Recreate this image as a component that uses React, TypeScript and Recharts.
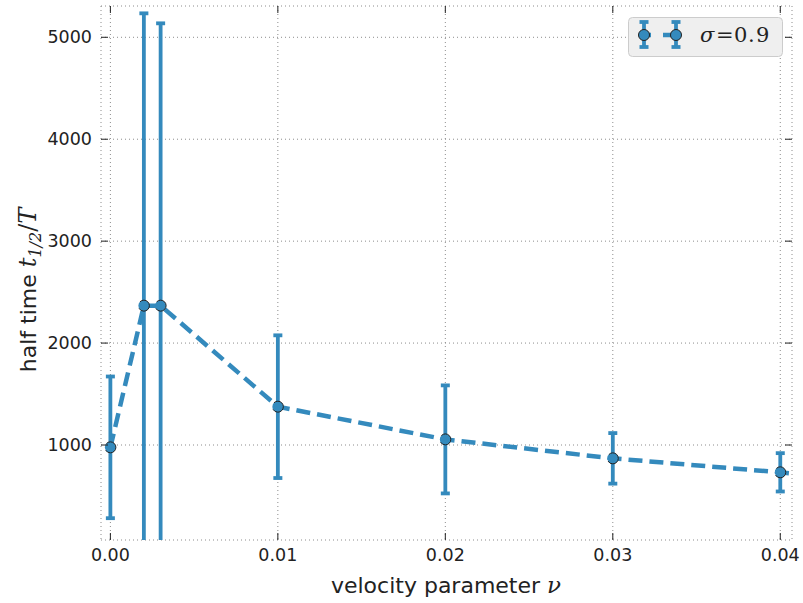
import {
  LineChart,
  Line,
  XAxis,
  YAxis,
  CartesianGrid,
  ErrorBar,
  ReferenceArea,
  Legend,
  Label,
} from 'recharts'

// velocity parameter ν and the fitted half time t_{1/2}/T with its spread
const nu = [0, 0.002, 0.003, 0.01, 0.02, 0.03, 0.04, 0.05]
const halfTime = [977, 2367, 2367, 1376, 1055, 869, 732, 565]
const halfTimeErr = [695, 2868, 2770, 700, 530, 248, 188, 0]

const xTicks = [0, 0.01, 0.02, 0.03, 0.04]
const yTicks = [1000, 2000, 3000, 4000, 5000]
const xDomain = [-0.00056, 0.0407]
const yDomain = [68, 5307]

const BLUE = '#348ABD'
const INK = '#222222'
const PLOT_TOP = 6
const PLOT_BOTTOM = 540
const PLOT_LEFT = 101
const PLOT_RIGHT = 792
const TICK_LEN = 7

const data = nu.map((v, i) => ({ nu: v, t: halfTime[i], err: halfTimeErr[i] }))

// matplotlib-style inward ticks on both sides of the frame
function XTick({ x, payload }: any) {
  return (
    <g>
      <line x1={x} x2={x} y1={PLOT_BOTTOM} y2={PLOT_BOTTOM - TICK_LEN} stroke={INK} />
      <line x1={x} x2={x} y1={PLOT_TOP} y2={PLOT_TOP + TICK_LEN} stroke={INK} />
      <text x={x} y={561} textAnchor="middle" fontSize={17.5} fontFamily="DejaVu Sans" fill={INK}>
        {payload.value.toFixed(2)}
      </text>
    </g>
  )
}

function YTick({ y, payload }: any) {
  return (
    <g>
      <line x1={PLOT_LEFT} x2={PLOT_LEFT + TICK_LEN} y1={y} y2={y} stroke={INK} />
      <line x1={PLOT_RIGHT} x2={PLOT_RIGHT - TICK_LEN} y1={y} y2={y} stroke={INK} />
      <text x={92} y={y + 6} textAnchor="end" fontSize={17.5} fontFamily="DejaVu Sans" fill={INK}>
        {payload.value}
      </text>
    </g>
  )
}

function XTitle() {
  return (
    <text x={446} y={593} textAnchor="middle" fontSize={22} fontFamily="DejaVu Sans" fill={INK}>
      velocity parameter{' '}
      <tspan fontFamily="DejaVu Serif" fontStyle="italic" fontSize={23}>ν</tspan>
    </text>
  )
}

function YTitle() {
  return (
    <text
      transform="translate(36, 290) rotate(-90)"
      textAnchor="middle"
      fontSize={22}
      fontFamily="DejaVu Sans"
      fill={INK}
    >
      half time{' '}
      <tspan fontFamily="DejaVu Serif" fontStyle="italic" fontSize={24}>t</tspan>
      <tspan fontFamily="DejaVu Serif" fontStyle="italic" fontSize={16} dy={5}>1/2</tspan>
      <tspan fontFamily="DejaVu Serif" fontSize={24} dy={-5}>/</tspan>
      <tspan fontFamily="DejaVu Serif" fontStyle="italic" fontSize={24}>T</tspan>
    </text>
  )
}

function SigmaLegend() {
  const marker = (cx: number) => (
    <g>
      <line x1={cx} x2={cx} y1={5} y2={30} stroke={BLUE} strokeWidth={3.8} />
      <line x1={cx - 4.5} x2={cx + 4.5} y1={5} y2={5} stroke={BLUE} strokeWidth={3.8} />
      <line x1={cx - 4.5} x2={cx + 4.5} y1={30} y2={30} stroke={BLUE} strokeWidth={3.8} />
      <circle cx={cx} cy={18} r={5.5} fill={BLUE} stroke={INK} strokeWidth={1} />
    </g>
  )
  return (
    <svg width={156} height={41} style={{ display: 'block' }}>
      <rect x={0.5} y={0.5} width={154} height={39} rx={4} fill="#efefef" stroke="#cccccc" />
      <line x1={16} x2={48} y1={18} y2={18} stroke={BLUE} strokeWidth={4.5} strokeDasharray="7 12 14" />
      {marker(16)}
      {marker(48)}
      <text y={25} fontSize={21} fontFamily="DejaVu Serif" fill={INK}>
        <tspan x={72} fontStyle="italic">σ</tspan>
        <tspan x={88}>=</tspan>
        <tspan x={106}>0</tspan>
        <tspan x={120}>.</tspan>
        <tspan x={128}>9</tspan>
      </text>
    </svg>
  )
}

export default function App() {
  return (
    <div style={{ position: 'absolute', left: 0, top: 0, background: '#fff' }}>
      {/* plot-area clip shared by the error bars, which run past the lower axis */}
      <svg width={0} height={0} style={{ position: 'absolute' }}>
        <defs>
          <clipPath id="plot-clip" clipPathUnits="userSpaceOnUse">
            <rect x={PLOT_LEFT} y={PLOT_TOP} width={PLOT_RIGHT - PLOT_LEFT} height={PLOT_BOTTOM - PLOT_TOP} />
          </clipPath>
        </defs>
      </svg>
      <style>{'.recharts-errorBars, .recharts-errorBar { clip-path: url(#plot-clip); }'}</style>
      <LineChart
        width={803}
        height={603}
        data={data}
        margin={{ top: PLOT_TOP, right: 803 - PLOT_RIGHT, left: 0, bottom: 0 }}
      >
        <ReferenceArea fill="#eeeeee" fillOpacity={1} stroke="none" ifOverflow="visible" />
        <XAxis
          type="number"
          dataKey="nu"
          domain={xDomain}
          allowDataOverflow
          ticks={xTicks}
          tick={<XTick />}
          tickLine={false}
          axisLine={false}
          height={603 - PLOT_BOTTOM}
          interval={0}
        >
          <Label content={<XTitle />} />
        </XAxis>
        <YAxis
          type="number"
          domain={yDomain}
          allowDataOverflow
          ticks={yTicks}
          tick={<YTick />}
          tickLine={false}
          axisLine={false}
          width={PLOT_LEFT}
          interval={0}
        >
          <Label content={<YTitle />} />
        </YAxis>
        <Line
          dataKey="t"
          stroke={BLUE}
          strokeWidth={4.5}
          strokeDasharray="14 7"
          dot={{ r: 5.5, fill: BLUE, stroke: INK, strokeWidth: 1 }}
          activeDot={false}
          isAnimationActive={false}
        >
          <ErrorBar
            dataKey="err"
            direction="y"
            width={4.5}
            stroke={BLUE}
            strokeWidth={3.8}
            isAnimationActive={false}
          />
        </Line>
        <CartesianGrid stroke="#8c8c8c" strokeDasharray="1 3" fill="none" />
        <ReferenceArea fill="none" stroke="#bcbcbc" strokeWidth={1.2} ifOverflow="visible" />
        <Legend
          layout="vertical"
          align="center"
          verticalAlign="middle"
          content={<SigmaLegend />}
          wrapperStyle={{ left: 628, top: 17, width: 156, height: 41 }}
        />
      </LineChart>
    </div>
  )
}
